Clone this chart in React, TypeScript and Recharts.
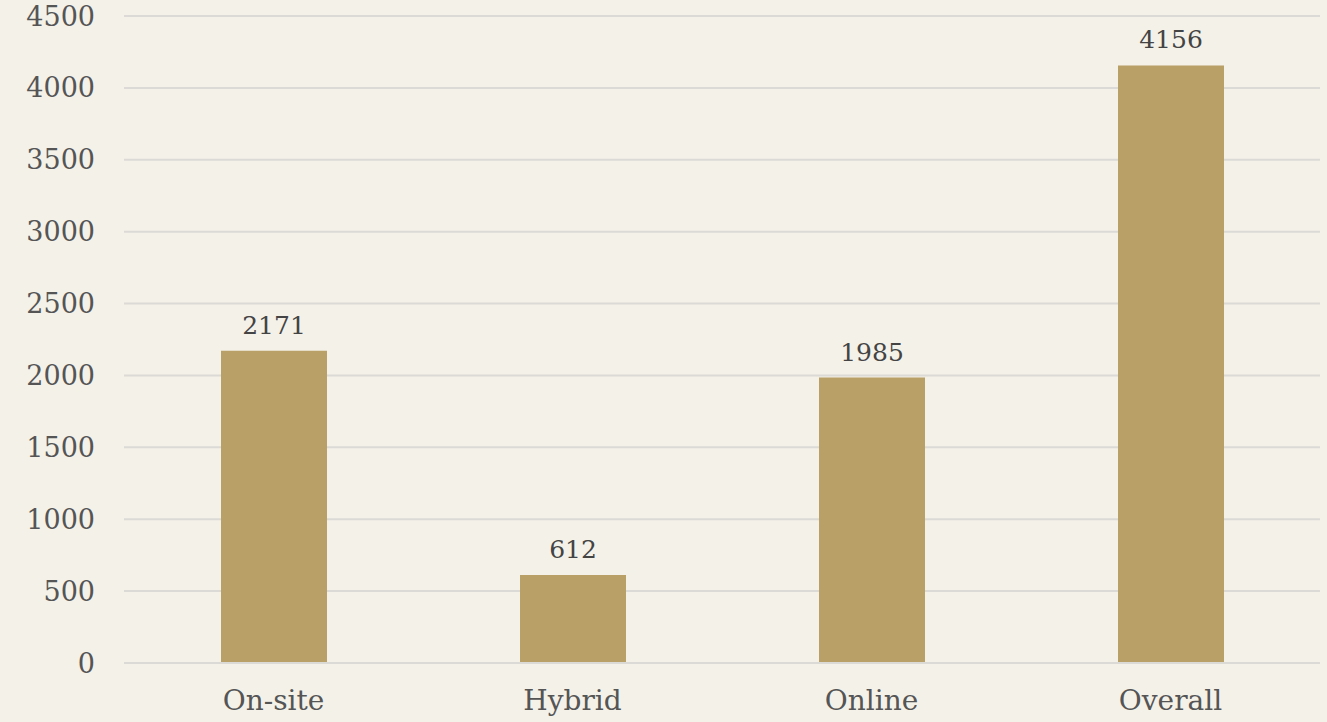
import { Bar, BarChart, CartesianGrid, LabelList, XAxis, YAxis } from "recharts";

const categories = ["On-site", "Hybrid", "Online", "Overall"];
const counts = [2171, 612, 1985, 4156];
const yTicks = [0, 500, 1000, 1500, 2000, 2500, 3000, 3500, 4000, 4500];

const data = categories.map((name, i) => ({ name, count: counts[i] }));

const FONT = "Georgia, 'DejaVu Serif', serif";

export default function App() {
  return (
    <div
      style={{
        position: "fixed",
        left: 0,
        top: 0,
        width: 1327,
        height: 722,
        background: "#f4f1e9",
        fontFamily: FONT,
      }}
    >
      <BarChart
        width={1327}
        height={722}
        data={data}
        margin={{ top: 16, right: 7, bottom: 0, left: 0 }}
      >
        <CartesianGrid stroke="#dcdad6" strokeWidth={2} vertical={false} />
        <XAxis
          dataKey="name"
          height={59}
          axisLine={{ stroke: "#dcdad6", strokeWidth: 2 }}
          tickLine={false}
          tickSize={0}
          tickMargin={27}
          tick={{ fill: "#555555", fontSize: 28, fontFamily: FONT }}
        />
        <YAxis
          width={124}
          domain={[0, 4500]}
          ticks={yTicks}
          interval={0}
          axisLine={false}
          tickLine={false}
          tickSize={0}
          tickMargin={29}
          tick={{ fill: "#555555", fontSize: 27, fontFamily: FONT }}
        />
        <Bar dataKey="count" fill="#b8a066" barSize={106} isAnimationActive={false}>
          <LabelList
            dataKey="count"
            position="top"
            offset={17}
            fill="#444444"
            fontSize={25}
            fontFamily={FONT}
          />
        </Bar>
      </BarChart>
    </div>
  );
}
